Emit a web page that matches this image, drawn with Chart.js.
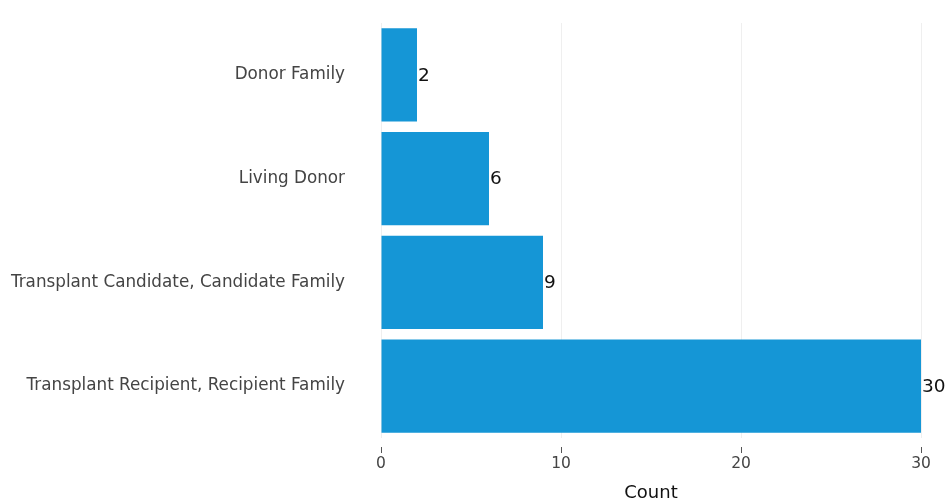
<!DOCTYPE html>
<html>
<head>
<meta charset="utf-8">
<script src="https://cdn.jsdelivr.net/npm/chart.js@4.4.1/dist/chart.umd.min.js"></script>
<style>
  html, body { margin: 0; padding: 0; background: #fff; }
  #wrap { width: 951px; height: 504px; }
</style>
</head>
<body>
<div id="wrap"><canvas id="grafico"></canvas></div>
<script>
// datos del grafico
const categorias = [
  'Donor Family',
  'Living Donor',
  'Transplant Candidate, Candidate Family',
  'Transplant Recipient, Recipient Family'
];
const conteos = [2, 6, 9, 30];
const ticksX = [0, 10, 20, 30];

const fuente = "'DejaVu Sans', Verdana, sans-serif";

// etiquetas de valor al final de cada barra
const etiquetasValor = {
  id: 'etiquetasValor',
  afterDatasetsDraw(chart) {
    const ctx = chart.ctx;
    const meta = chart.getDatasetMeta(0);
    ctx.save();
    ctx.font = '18.5px ' + fuente;
    ctx.fillStyle = '#111';
    ctx.textAlign = 'left';
    ctx.textBaseline = 'middle';
    meta.data.forEach((bar, i) => {
      ctx.fillText(String(conteos[i]), bar.x + 1, bar.y + 1);
    });
    ctx.restore();
  }
};

// marcas pequenas debajo del eje x
const marcasX = {
  id: 'marcasX',
  afterDraw(chart) {
    const ctx = chart.ctx;
    const x = chart.scales.x;
    const abajo = chart.chartArea.bottom;
    ctx.save();
    ctx.strokeStyle = '#555';
    ctx.lineWidth = 1;
    ticksX.forEach(v => {
      const px = Math.round(x.getPixelForValue(v)) + 0.5;
      ctx.beginPath();
      ctx.moveTo(px, abajo + 9);
      ctx.lineTo(px, abajo + 15);
      ctx.stroke();
    });
    ctx.restore();
  }
};

new Chart(document.getElementById('grafico').getContext('2d'), {
  type: 'bar',
  data: {
    labels: categorias,
    datasets: [{
      data: conteos,
      backgroundColor: '#1596d6',
      borderWidth: 0,
      barPercentage: 0.9,
      categoryPercentage: 1.0
    }]
  },
  options: {
    indexAxis: 'y',
    responsive: true,
    maintainAspectRatio: false,
    animation: false,
    layout: { padding: { top: 23, right: 30, bottom: 0, left: 0 } },
    plugins: {
      legend: { display: false },
      tooltip: { enabled: false }
    },
    scales: {
      x: {
        min: 0,
        max: 30,
        afterBuildTicks: (scale) => { scale.ticks = ticksX.map(v => ({ value: v })); },
        afterFit: (scale) => {
          scale.height = 66;
          scale.paddingLeft = 0;
          scale.paddingRight = 0;
        },
        grid: { color: '#efefef', drawTicks: false },
        border: { display: false },
        ticks: {
          padding: 17,
          color: '#444',
          font: { family: fuente, size: 15.5 }
        },
        title: {
          display: true,
          text: 'Count',
          color: '#111',
          font: { family: fuente, size: 18 },
          padding: { top: 0, bottom: 0 }
        }
      },
      y: {
        afterFit: (scale) => {
          scale.width = 381;
          scale.paddingTop = 0;
          scale.paddingBottom = 0;
        },
        grid: { display: false, drawTicks: false },
        border: { display: false },
        ticks: {
          padding: 36,
          color: '#444',
          font: { family: fuente, size: 16.8 }
        }
      }
    }
  },
  plugins: [etiquetasValor, marcasX]
});
</script>
</body>
</html>
